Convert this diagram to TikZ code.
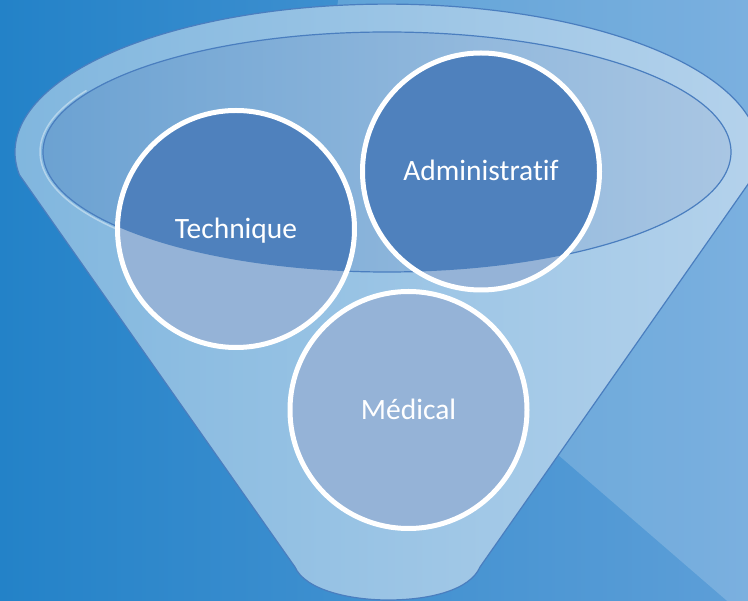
\documentclass[tikz,border=0pt]{standalone}
\usepackage{fontspec}
\setmainfont{Carlito}[Ligatures=NoCommon]
\usetikzlibrary{calc}
\definecolor{bgl}{HTML}{2382C8}
\definecolor{bgr}{HTML}{5E9FD8}
\definecolor{bodyl}{HTML}{80B6DE}
\definecolor{bodyr}{HTML}{B6D3EC}
\definecolor{innl}{HTML}{6CA2D2}
\definecolor{innr}{HTML}{A9C6E3}
\definecolor{cdark}{HTML}{4F81BD}
\definecolor{clight}{HTML}{95B3D7}
\definecolor{fline}{HTML}{4A7EBF}
\begin{document}
\begin{tikzpicture}[x=1pt,y=-1pt,
  edge/.style={draw=fline,line width=1.2pt},
  circ/.style={circle,minimum size=237pt,inner sep=0pt,draw=white,line width=5pt,
    text=white,font=\fontsize{29.5}{35}\selectfont,text height=19pt,text depth=0pt,
    path picture={\fill[clight] (path picture bounding box.south west) rectangle (path picture bounding box.north east);
      \fill[cdark] (ec) ellipse [x radius=344pt,y radius=120pt];}}]
\useasboundingbox (0,0) rectangle (748,601);
% background
\fill[left color=bgl,right color=bgr] (0,0) rectangle (748,601);
\fill[white,opacity=0.18] (298,230) -- (770,638) -- (770,-10) -- (340,-10) -- cycle;
\coordinate (ec) at (387,152);
% funnel body with rim
\path[edge,left color=bodyl,right color=bodyr]
  (19.5,175) -- (295,567) .. controls (305,590) and (350,600) .. (388,600)
  .. controls (430,600) and (470,590) .. (480,567) -- (754.5,175)
  arc [start angle=-8.9,end angle=188.9,x radius=372pt,y radius=148pt] -- cycle;
% light edge inside the rim (left side)
\coordinate (hl) at ($(ec)+(-300.5pt,61.5pt)$);
\draw[white,opacity=0.4,line width=1.5pt] (hl)
  arc [start angle=150,end angle=225,x radius=347pt,y radius=123pt];
% opening
\path[edge,left color=innl,right color=innr] (ec) ellipse [x radius=344pt,y radius=120pt];
% circles
\node[circ] (tech) at (236,229) {Technique};
\node[circ] (admin) at (481,171.5) {Administratif};
\node[circ] (med) at (408.5,410) {Médical};
\end{tikzpicture}
\end{document}
